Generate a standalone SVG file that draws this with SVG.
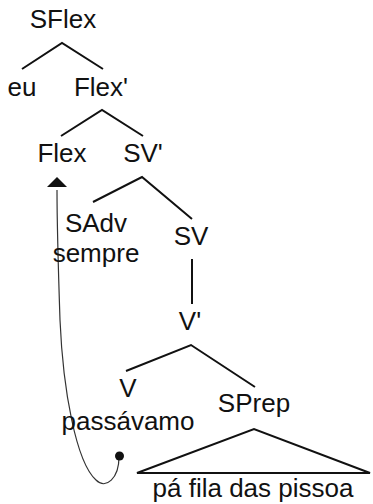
<svg xmlns="http://www.w3.org/2000/svg" width="373" height="504" viewBox="0 0 373 504">
  <style>
    text { font-family: "Liberation Sans", Arial, sans-serif; font-size: 26px; fill: #111; text-anchor: middle; }
    .branch { fill: none; stroke: #111; stroke-width: 2; stroke-linejoin: miter; }
    .move { fill: none; stroke: #333; stroke-width: 1.2; }
  </style>

  <!-- tree branches -->
  <g id="connectors">
    <polyline class="branch" points="22,69 62,43 103,69"/>
    <polyline class="branch" points="61,136 102,110 143,136"/>
    <polyline class="branch" points="93,202 142,177 192,219"/>
    <line class="branch" x1="192" y1="259" x2="192" y2="304"/>
    <polyline class="branch" points="126,371 191,345 255,387"/>
    <polygon class="branch" points="137,473 254,429 370,473"/>
    <!-- head movement of the verb up to Flex -->
    <path class="move" d="M119,457 C119,478 106,490 96,480 C76,462 63,390 60,320 C58,260 57,220 57,190"/>
    <path d="M47,187 L57,177 L67,187 Z" fill="#111"/>
    <circle cx="119.5" cy="456" r="4.5" fill="#111"/>
  </g>

  <g id="sflex"><text x="63" y="28">SFlex</text></g>
  <g id="eu"><text x="22" y="96">eu</text></g>
  <g id="flex-bar"><text x="101" y="96">Flex'</text></g>
  <g id="flex"><text x="62" y="162">Flex</text></g>
  <g id="sv-bar"><text x="143" y="162">SV'</text></g>
  <g id="sadv"><text x="96" y="232">SAdv</text><text x="96" y="262">sempre</text></g>
  <g id="sv"><text x="191" y="245">SV</text></g>
  <g id="v-bar"><text x="190" y="330">V'</text></g>
  <g id="v"><text x="128" y="397">V</text><text x="128" y="430">passávamo</text></g>
  <g id="sprep"><text x="254" y="412">SPrep</text></g>
  <g id="np"><text x="253" y="497">pá fila das pissoa</text></g>
</svg>
